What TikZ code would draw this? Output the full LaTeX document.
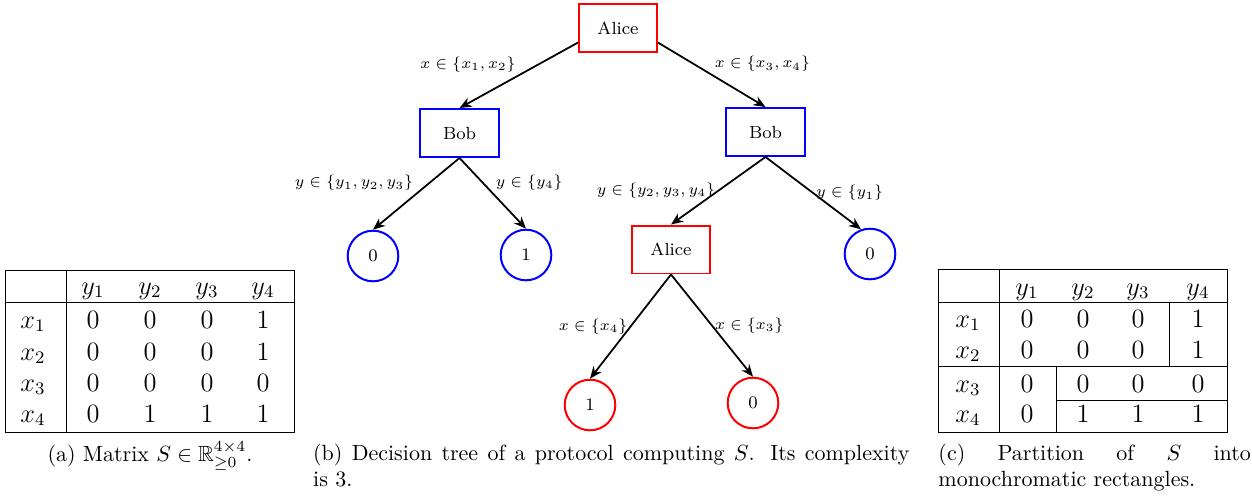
\documentclass[tikz,border=0pt]{standalone}
\usepackage{xcolor}
\usepackage{amssymb}
\usepackage{tikz}
\usetikzlibrary{arrows.meta,positioning}
\definecolor{aliceEdge}{HTML}{FF0000}
\definecolor{bobEdge}{HTML}{0000FF}
\newcommand{\nohyph}{\hyphenpenalty=10000\relax}
\tikzset{
  party/.style={draw=#1, line width=0.9pt, minimum width=35.5pt, minimum height=21.8pt,
        inner sep=0pt, font=\footnotesize},
  leaf/.style={draw=#1, circle, line width=0.9pt, minimum size=23pt, inner sep=0pt,
        font=\footnotesize},
  e/.style={-{Stealth[length=5.5pt,width=4.5pt]}, line width=0.8pt},
  elab/.style={font=\scriptsize, inner sep=1pt},
  cell/.style={font=\large, anchor=base, inner sep=0pt},
  rule/.style={line width=0.4pt},
  capt/.style={font=\normalsize\nohyph, inner sep=0pt, align=justify, anchor=north west,
        text width=#1},
}

\begin{document}
\begin{tikzpicture}[x=0.4545pt, y=-0.4545pt]
  \useasboundingbox (0,0) rectangle (1252,495);
  % (a) the matrix
  \foreach \c/\x in {1/93,2/150,3/207,4/263}
    \node[cell] (ay\c) at (\x,294) {$y_\c$};
  \foreach \r/\y/\va/\vb/\vc/\vd in {1/328/0/0/0/1, 2/360/0/0/0/1, 3/391/0/0/0/0, 4/422/0/1/1/1} {
    \node[cell] (ax\r) at (33,\y) {$x_\r$};
    \node[cell] (a\r1) at (93,\y) {$\va$};
    \node[cell] (a\r2) at (150,\y) {$\vb$};
    \node[cell] (a\r3) at (207,\y) {$\vc$};
    \node[cell] (a\r4) at (263,\y) {$\vd$};
  }
  \draw[rule] (5,270) rectangle (294,432);
  \draw[rule] (5,302) -- (294,302);
  \draw[rule] (66,270) -- (66,432);
  \node[anchor=base, inner sep=0pt] (captA) at (150,461)
    {(a) Matrix $S\in\mathbb{R}^{4\times4}_{\geq0}$.};

  % (b) decision tree
  \node[party=aliceEdge] (root)   at (618,28)    {Alice};
  \node[party=bobEdge]   (bobL)   at (459.5,133) {Bob};
  \node[party=bobEdge]   (bobR)   at (765.5,132) {Bob};
  \node[leaf=bobEdge]    (lz)     at (373,256)   {0};
  \node[leaf=bobEdge]    (lo)     at (526,255)   {1};
  \node[party=aliceEdge] (aliceM) at (671,249.5) {Alice};
  \node[leaf=bobEdge]    (rz)     at (870,254)   {0};
  \node[leaf=aliceEdge]  (mo)     at (590,405)   {1};
  \node[leaf=aliceEdge]  (mz)     at (753,403)   {0};
  \draw[e] (root.200) -- (bobL.north)  node[elab,midway,above left]{$x\in\{x_1,x_2\}$};
  \draw[e] (root.-20) -- (bobR.north)  node[elab,midway,above right]{$x\in\{x_3,x_4\}$};
  \draw[e] (bobL.south) -- (lz.north)  node[elab,midway,above left]{$y\in\{y_1,y_2,y_3\}$};
  \draw[e] (bobL.south) -- (lo.north)  node[elab,midway,above right]{$y\in\{y_4\}$};
  \draw[e] (bobR.south) -- (aliceM.north) node[elab,midway,left]{$y\in\{y_2,y_3,y_4\}$};
  \draw[e] (bobR.south) -- (rz.110)    node[elab,midway,right]{$y\in\{y_1\}$};
  \draw[e] (aliceM.south) -- (mo.north) node[elab,midway,left]{$x\in\{x_4\}$};
  \draw[e] (aliceM.south) -- (mz.north) node[elab,midway,right]{$x\in\{x_3\}$};
  \node[capt=271pt] (captB) at (312.7,441.5)
    {\strut(b) Decision tree of a protocol computing $S$. Its complexity\linebreak is 3.};

  % (c) partition into rectangles
  \foreach \c/\x in {1/1027,2/1083,3/1138,4/1198}
    \node[cell] (cy\c) at (\x,295) {$y_\c$};
  \foreach \r/\y/\va/\vb/\vc/\vd in {1/327/0/0/0/1, 2/358/0/0/0/1, 3/392/0/0/0/0, 4/422/0/1/1/1} {
    \node[cell] (cx\r) at (968,\y) {$x_\r$};
    \node[cell] (c\r1) at (1027,\y) {$\va$};
    \node[cell] (c\r2) at (1083,\y) {$\vb$};
    \node[cell] (c\r3) at (1138,\y) {$\vc$};
    \node[cell] (c\r4) at (1198,\y) {$\vd$};
  }
  \draw[rule] (938,269) rectangle (1227,432);
  \draw[rule] (938,302) -- (1227,302);
  \draw[rule] (999,269) -- (999,432);
  \draw[rule] (1169,302) -- (1169,366);
  \draw[rule] (938,366) -- (1227,366);
  \draw[rule] (1056,366) -- (1056,432);
  \draw[rule] (1056,400) -- (1227,400);
  \node[capt=142pt] (captC) at (938,441.5)
    {\strut(c) Partition of $S$ into monochromatic rectangles.};
\end{tikzpicture}
\end{document}
